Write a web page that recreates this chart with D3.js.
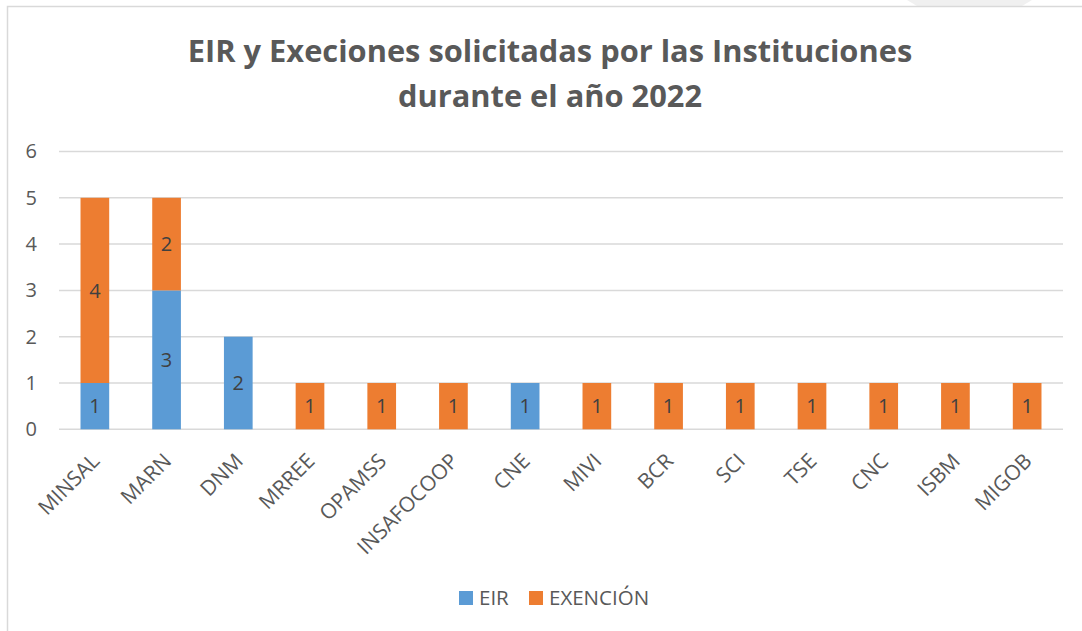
<!DOCTYPE html>
<html>
<head>
<meta charset="utf-8">
<script src="https://cdn.jsdelivr.net/npm/d3@7"></script>
<style>
  body { margin: 0; background: #fff; }
  text { font-family: "Open Sans", "Liberation Sans", sans-serif; }
</style>
</head>
<body>
<div class="chart"></div>
<script>
// data
const instituciones = ["MINSAL", "MARN", "DNM", "MRREE", "OPAMSS", "INSAFOCOOP", "CNE",
                       "MIVI", "BCR", "SCI", "TSE", "CNC", "ISBM", "MIGOB"];
const eir      = [1, 3, 2, 0, 0, 0, 1, 0, 0, 0, 0, 0, 0, 0];
const exencion = [4, 2, 0, 1, 1, 1, 0, 1, 1, 1, 1, 1, 1, 1];
const series = ["EIR", "EXENCIÓN"];
const yTicks = [0, 1, 2, 3, 4, 5, 6];
const titleLines = ["EIR y Execiones solicitadas por las Instituciones", "durante el año 2022"];

const width = 1082, height = 631;
const plot = {left: 59, right: 1063, top: 151.5, bottom: 429.3};

const data = instituciones.map((d, i) => ({name: d, EIR: eir[i], "EXENCIÓN": exencion[i]}));
const stacked = d3.stack().keys(series)(data);

const color = d3.scaleOrdinal().domain(series).range(["#5B9BD5", "#ED7D31"]);

const svg = d3.select('.chart').append('svg')
    .attr("width", width)
    .attr("height", height);

// chart frame (cropped on the right and bottom)
svg.append("path")
    .attr("d", "M907,0 L1032,0 L1022,6 L917,6 Z")
    .attr("fill", "#f0f0f0");
svg.append("rect")
    .attr("x", 7.5).attr("y", 6.5)
    .attr("width", 1100).attr("height", 700)
    .attr("fill", "none")
    .attr("stroke", "#d9d9d9")
    .attr("stroke-width", 1.5);

const xScale = d3.scaleBand()
    .domain(instituciones)
    .range([plot.left, plot.right])
    .paddingInner(0.6)
    .paddingOuter(0.3);

const yScale = d3.scaleLinear()
    .domain([0, 6])
    .range([plot.bottom, plot.top]);

// gridlines
svg.append("g")
    .attr("class", "grid")
    .selectAll("line")
    .data(yTicks)
    .enter()
    .append("line")
    .attr("x1", plot.left).attr("x2", plot.right)
    .attr("y1", d => yScale(d)).attr("y2", d => yScale(d))
    .attr("stroke", "#d9d9d9")
    .attr("stroke-width", 1.5);

// y axis
const yAxis = d3.axisLeft(yScale).tickValues(yTicks).tickFormat(d3.format("d"))
    .tickSize(0).tickPadding(0);
svg.append("g")
    .attr("class", "axis y-axis")
    .attr("transform", "translate(37,0)")
    .call(yAxis)
    .call(g => g.select(".domain").remove())
    .call(g => g.selectAll("text")
        .attr("fill", "#595959")
        .attr("font-size", "20px")
        .attr("font-family", null));

// bars
const layers = svg.selectAll(".layer")
    .data(stacked)
    .enter()
    .append("g")
    .attr("class", "layer")
    .attr("fill", d => color(d.key));

layers.selectAll("rect")
    .data(d => d.filter(s => s[1] - s[0] > 0))
    .enter()
    .append("rect")
    .attr("x", d => xScale(d.data.name))
    .attr("y", d => yScale(d[1]))
    .attr("width", xScale.bandwidth())
    .attr("height", d => yScale(d[0]) - yScale(d[1]));

layers.selectAll(".lbl")
    .data(d => d.filter(s => s[1] - s[0] > 0))
    .enter()
    .append("text")
    .attr("class", "lbl")
    .attr("x", d => xScale(d.data.name) + xScale.bandwidth() / 2)
    .attr("y", d => (yScale(d[0]) + yScale(d[1])) / 2)
    .attr("dy", "0.36em")
    .attr("text-anchor", "middle")
    .attr("fill", "#404040")
    .attr("font-size", "20px")
    .text(d => d[1] - d[0]);

// x labels
svg.append("g")
    .attr("class", "x-labels")
    .selectAll("text")
    .data(instituciones)
    .enter()
    .append("text")
    .attr("transform", d => `translate(${xScale(d) + xScale.bandwidth() / 2 + 6},${plot.bottom + 33}) rotate(-45)`)
    .attr("text-anchor", "end")
    .attr("fill", "#595959")
    .attr("font-size", "21px")
    .text(d => d);

// title
const title = svg.append("text")
    .attr("text-anchor", "middle")
    .attr("fill", "#595959")
    .attr("font-weight", "bold")
    .attr("font-size", "28px");
title.selectAll("tspan")
    .data(titleLines)
    .enter()
    .append("tspan")
    .attr("x", 550)
    .attr("y", (d, i) => 62 + i * 45)
    .text(d => d);
// fit the first line to the width seen in the picture
const w0 = title.select("tspan").node().getComputedTextLength();
title.attr("font-size", (28 * 724 / w0).toFixed(1) + "px");

// legend
const legendX = [459, 529];
const legend = svg.append("g").attr("class", "legend");
legend.selectAll("rect")
    .data(series)
    .enter()
    .append("rect")
    .attr("x", (d, i) => legendX[i])
    .attr("y", 591)
    .attr("width", 14)
    .attr("height", 14)
    .attr("fill", d => color(d));
legend.selectAll("text")
    .data(series)
    .enter()
    .append("text")
    .attr("x", (d, i) => legendX[i] + 20)
    .attr("y", 605)
    .attr("fill", "#595959")
    .attr("font-size", "20.5px")
    .text(d => d);
</script>
</body>
</html>
